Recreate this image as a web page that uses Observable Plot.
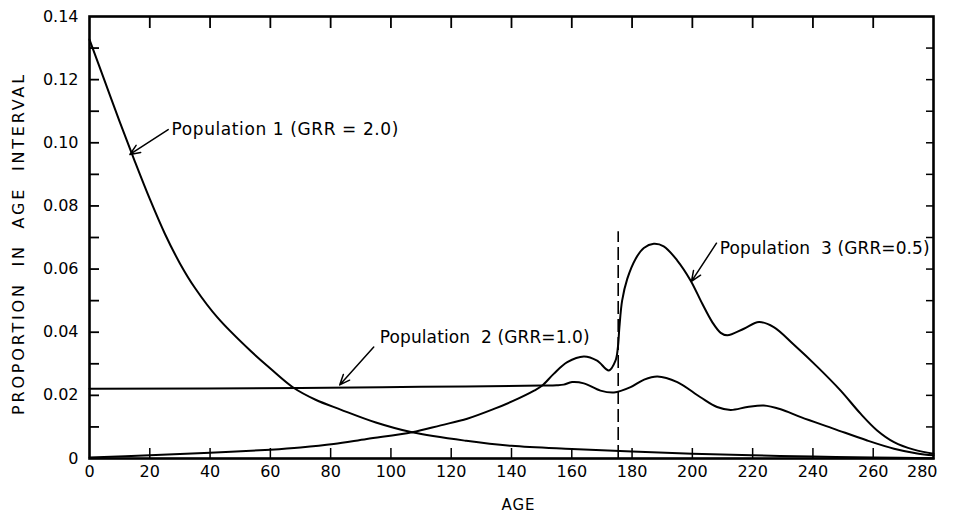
<!DOCTYPE html>
<html>
<head>
<meta charset="utf-8">
<script src="https://cdn.jsdelivr.net/npm/d3@7"></script>
<script src="https://cdn.jsdelivr.net/npm/@observablehq/plot@0.6"></script>
<style>
  html, body { margin: 0; padding: 0; background: #fff; }
  #chart { width: 959px; height: 516px; }
</style>
</head>
<body>
<div id="chart"></div>
<script>
// ---- Data ----
// Population 1 (GRR = 2.0)
const pop1Age   = [0, 5, 10, 15, 20, 25, 30, 35, 42.5, 53.4, 60, 67.7, 75, 83.3, 95, 107, 125, 140, 160, 180, 200, 220, 240, 260, 280];
const pop1Value = [0.1327, 0.1197, 0.1067, 0.0942, 0.0822, 0.0712, 0.0618, 0.0540, 0.0446, 0.0341, 0.0285, 0.0224, 0.0186, 0.0155, 0.0114, 0.0083, 0.0056, 0.0040, 0.0030, 0.0022, 0.0015, 0.0010, 0.0006, 0.0003, 0.0001];

// Population 2 (GRR = 1.0)
const pop2Age   = [0, 70, 110, 150, 155, 157.3, 160.1, 164, 169.5, 174, 179.5, 184, 188.4, 195, 202.7, 208.2, 212.7, 218.2, 223.7, 229.3, 236, 247, 258, 266.9, 274.6, 280];
const pop2Value = [0.0221, 0.0223, 0.0227, 0.0231, 0.0232, 0.0234, 0.0242, 0.0238, 0.0215, 0.0209, 0.0226, 0.0250, 0.0260, 0.0242, 0.0194, 0.0163, 0.0154, 0.0163, 0.0168, 0.0156, 0.0131, 0.0094, 0.0057, 0.0031, 0.0016, 0.0010];

// Population 3 (GRR = 0.5)
const pop3Age   = [0, 20, 40, 60, 70, 81, 92, 107, 116.5, 125.3, 134.2, 140.9, 147.5, 150.2, 154, 158.5, 164, 168.4, 172.3, 174.5, 175.3, 175.8, 176.7, 178.4, 181.2, 183.9, 187.2, 190.5, 195, 199.4, 203.3, 206.6, 209.4, 211.6, 217.1, 222.1, 227, 233.7, 241.4, 249.2, 255.8, 261.3, 266.9, 273.5, 280];
const pop3Value = [0.0003, 0.0010, 0.0018, 0.0028, 0.0035, 0.0046, 0.0062, 0.0083, 0.0105, 0.0126, 0.0157, 0.0184, 0.0215, 0.0231, 0.0268, 0.0305, 0.0323, 0.0310, 0.0279, 0.0310, 0.0353, 0.0416, 0.0500, 0.0569, 0.0633, 0.0667, 0.0680, 0.0672, 0.0627, 0.0564, 0.0490, 0.0432, 0.0398, 0.0390, 0.0411, 0.0432, 0.0416, 0.0360, 0.0291, 0.0215, 0.0142, 0.0089, 0.0052, 0.0028, 0.0015];

// Dashed vertical marker
const markerAge = [175.4];
const markerTop = [0.0718];

// Ticks and tick labels
const xTickValues = [0, 20, 40, 60, 80, 100, 120, 140, 160, 180, 200, 220, 240, 260, 280];
const xTickLabels = ["0", "20", "40", "60", "80", "100", "120", "140", "160", "180", "200", "220", "240", "260", "280"];
const xInnerTicks = [20, 40, 60, 80, 100, 120, 140, 160, 180, 200, 220, 240, 260];
const yTickValues = [0, 0.02, 0.04, 0.06, 0.08, 0.10, 0.12, 0.14];
const yTickLabels = ["0", "0.02", "0.04", "0.06", "0.08", "0.10", "0.12", "0.14"];
const yMinorTicks = [0.01, 0.02, 0.03, 0.04, 0.05, 0.06, 0.07, 0.08, 0.09, 0.10, 0.11, 0.12, 0.13];

// Annotations (data coordinates)
const annText      = ["Population 1 (GRR = 2.0)", "Population\u00a0\u00a02 (GRR=1.0)", "Population\u00a0\u00a03 (GRR=0.5)"];
const annAge       = [27.2, 96.3, 209.1];
const annValue     = [0.1042, 0.0383, 0.0665];
const arrowFromAge = [26.1, 94.3, 208.0];
const arrowFromVal = [0.1042, 0.0353, 0.0682];
const arrowToAge   = [13.4, 83.0, 199.7];
const arrowToVal   = [0.0963, 0.0233, 0.0561];

const xTitle = "AGE";
const yTitle = "PROPORTION\u00a0\u00a0IN\u00a0\u00a0AGE\u00a0\u00a0INTERVAL";

// ---- Tables built from the arrays ----
const toTable = (ages, vals) => ages.map((a, i) => ({age: a, value: vals[i]}));
const pop1 = toTable(pop1Age, pop1Value);
const pop2 = toTable(pop2Age, pop2Value);
const pop3 = toTable(pop3Age, pop3Value);
const xLabels = xTickValues.map((v, i) => ({v, label: xTickLabels[i]}));
const yLabels = yTickValues.map((v, i) => ({v, label: yTickLabels[i]}));
const anns = annText.map((t, i) => ({
  text: t, age: annAge[i], value: annValue[i],
  x1: arrowFromAge[i], y1: arrowFromVal[i], x2: arrowToAge[i], y2: arrowToVal[i]
}));
const marker = markerAge.map((a, i) => ({age: a, top: markerTop[i]}));

const font = "'DejaVu Sans', 'Liberation Sans', sans-serif";
const blank = () => "";

const chart = Plot.plot({
  width: 959,
  height: 516,
  marginLeft: 89,
  marginRight: 26,
  marginTop: 16,
  marginBottom: 58,
  x: {domain: [0, 280]},
  y: {domain: [0, 0.14]},
  style: {fontFamily: font, background: "white", color: "black", overflow: "visible"},
  marks: [
    // inward ticks (no text)
    Plot.axisY(yMinorTicks, {anchor: "left", tickSize: -10, strokeWidth: 1.8, tickFormat: blank, label: null}),
    Plot.axisY(yMinorTicks, {anchor: "right", tickSize: -8, strokeWidth: 1.5, tickFormat: blank, label: null}),
    Plot.axisX(xInnerTicks, {anchor: "top", tickSize: -11, strokeWidth: 1.8, tickFormat: blank, label: null}),
    Plot.axisX(xInnerTicks, {anchor: "bottom", tickSize: -10, strokeWidth: 1.5, tickFormat: blank, label: null}),
    // tick labels
    Plot.text(yLabels, {y: "v", text: "label", frameAnchor: "left", textAnchor: "end", dx: -11, fontSize: 16, fill: "black"}),
    Plot.text(xLabels.slice(0, -1), {x: "v", text: "label", frameAnchor: "bottom", dy: 18, fontSize: 16, fill: "black"}),
    Plot.text(xLabels.slice(-1), {x: "v", text: "label", frameAnchor: "bottom", dy: 18, dx: 4, textAnchor: "end", fontSize: 16, fill: "black"}),
    // axis titles
    Plot.text([yTitle], {text: d => d, frameAnchor: "left", textAnchor: "middle", rotate: -90, dx: -71, dy: 6, fontSize: 16, fill: "black"}),
    Plot.text([xTitle], {text: d => d, frameAnchor: "bottom", textAnchor: "middle", dx: 7, dy: 51, fontSize: 15, fill: "black"}),
    // dashed marker
    Plot.ruleX(marker, {x: "age", y1: 0, y2: "top", stroke: "black", strokeWidth: 1.6, strokeDasharray: "13,5"}),
    // curves
    Plot.line(pop1, {x: "age", y: "value", curve: "catmull-rom", stroke: "black", strokeWidth: 2}),
    Plot.line(pop2, {x: "age", y: "value", curve: "catmull-rom", stroke: "black", strokeWidth: 2}),
    Plot.line(pop3, {x: "age", y: "value", curve: "catmull-rom", stroke: "black", strokeWidth: 2}),
    // annotations
    Plot.arrow(anns, {x1: "x1", y1: "y1", x2: "x2", y2: "y2", stroke: "black", strokeWidth: 1.5, headLength: 11, headAngle: 45}),
    Plot.text(anns, {x: "age", y: "value", text: "text", textAnchor: "start", fontSize: 17, fill: "black"}),
    // frame
    Plot.frame({stroke: "black", strokeWidth: 2.6})
  ]
});

// letter spacing for the hand-lettered look
d3.select(chart).selectAll("text").each(function() {
  const t = this.textContent;
  if (t === yTitle) d3.select(this).style("letter-spacing", "2.8px");
  else if (t === xTitle) d3.select(this).style("letter-spacing", "1px");
  else if (t === annText[0]) d3.select(this).style("letter-spacing", "0.6px");
  else if (annText.includes(t)) d3.select(this).style("letter-spacing", "0.1px");
});

document.getElementById("chart").appendChild(chart);
</script>
</body>
</html>
